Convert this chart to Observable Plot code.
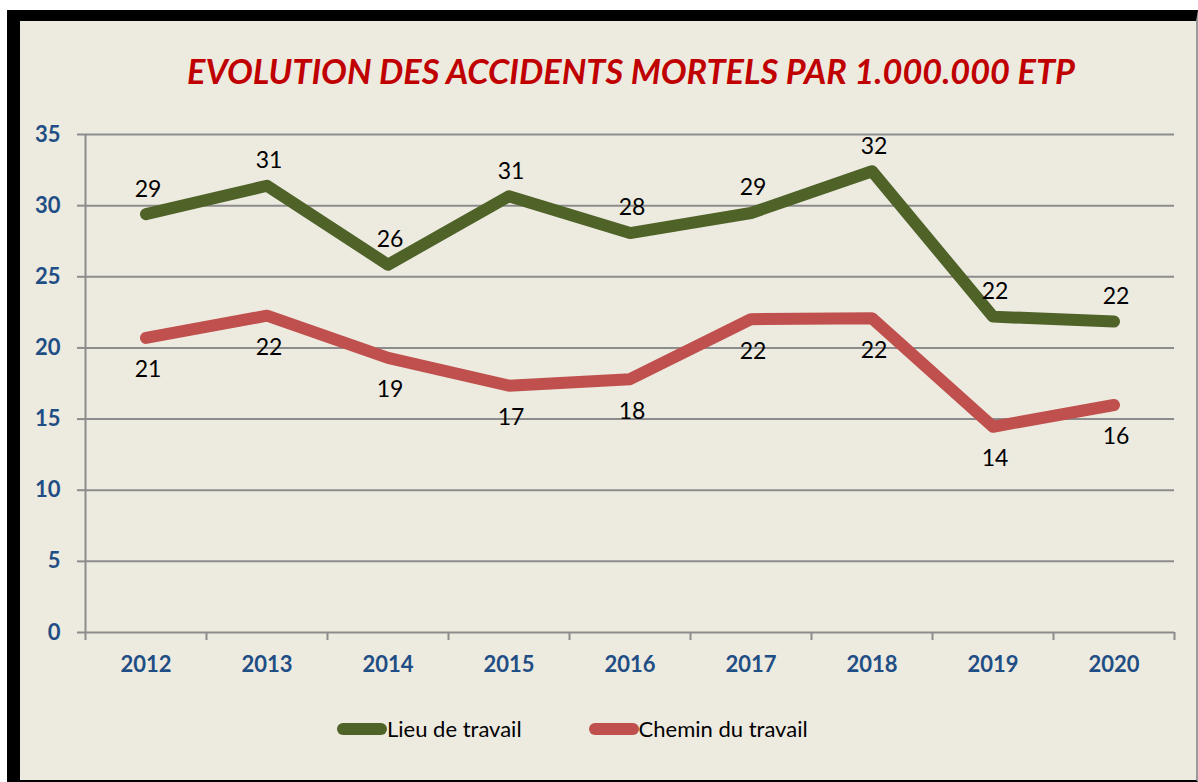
<!DOCTYPE html>
<html>
<head>
<meta charset="utf-8">
<script src="https://cdn.jsdelivr.net/npm/d3@7"></script>
<script src="https://cdn.jsdelivr.net/npm/@observablehq/plot@0.6"></script>
<style>
  html, body { margin: 0; padding: 0; background: #ffffff; width: 1198px; height: 782px; overflow: hidden; }
  #frame {
    position: absolute; left: 7px; top: 10px; width: 1191px; height: 772px;
    box-sizing: border-box; background: #EDEAE0;
    border-top: 11px solid #000; border-left: 13px solid #000;
    border-bottom: 2px solid #000; border-right: 2px solid #9a9a9a;
  }
  #title {
    position: absolute; left: 0; width: 1262px; top: 50px; text-align: center;
    font-family: Lato, sans-serif; font-weight: bold; font-style: italic;
    font-size: 34.3px; color: #C00000; white-space: nowrap;
  }
  #chart { position: absolute; left: 0; top: 110px; }
  #legend {
    position: absolute; left: 337px; top: 715px; display: flex; align-items: center;
    font-family: Lato, sans-serif; font-size: 22px; color: #000;
  }
  .item { display: flex; align-items: center; }
  .sw { width: 50px; height: 12px; border-radius: 6px; }
</style>
</head>
<body>
<div id="frame"></div>
<div id="title">EVOLUTION DES ACCIDENTS MORTELS PAR 1.000.000 ETP</div>
<div id="chart"></div>
<div id="legend"></div>
<script>
const years = [2012, 2013, 2014, 2015, 2016, 2017, 2018, 2019, 2020];
const lieuDeTravail = [29.4, 31.4, 25.85, 30.66, 28.07, 29.48, 32.42, 22.2, 21.85];
const cheminDuTravail = [20.7, 22.27, 19.3, 17.35, 17.8, 22.02, 22.09, 14.46, 15.99];
const seriesNames = ["Lieu de travail", "Chemin du travail"];
const seriesColors = ["#4F6228", "#C0504D"];
const yTicks = [0, 5, 10, 15, 20, 25, 30, 35];

const rows = [];
years.forEach((y, i) => {
  rows.push({year: y, value: lieuDeTravail[i], series: seriesNames[0]});
  rows.push({year: y, value: cheminDuTravail[i], series: seriesNames[1]});
});
const boundaries = [years[0] - 0.5, ...years.map(y => y + 0.5)];

const axisBlue = "#1F4E85";
const gridGray = "#8C8C8C";

const chart = Plot.plot({
  width: 1198,
  height: 590,
  marginTop: 24,
  marginBottom: 68,
  marginLeft: 85,
  marginRight: 24,
  style: {background: "transparent", fontFamily: "Lato, sans-serif", overflow: "visible"},
  x: {domain: [boundaries[0], boundaries[boundaries.length - 1]], label: null},
  y: {domain: [0, 35], label: null},
  color: {domain: seriesNames, range: seriesColors},
  marks: [
    Plot.ruleY(yTicks, {stroke: gridGray, strokeWidth: 2}),
    Plot.ruleX([boundaries[0]], {stroke: gridGray, strokeWidth: 2}),
    Plot.axisY({ticks: yTicks, tickSize: 8, tickPadding: 17, stroke: gridGray, strokeWidth: 2,
      fill: axisBlue, fontSize: 22, fontWeight: "bold", label: null, tickFormat: d => String(d)}),
    Plot.axisX({ticks: boundaries, tickSize: 8, stroke: gridGray, strokeWidth: 2,
      tickFormat: () => "", label: null}),
    Plot.axisX({ticks: years, tickSize: 0, tickPadding: 24, fill: axisBlue, fontSize: 22,
      fontWeight: "bold", label: null, tickFormat: d => String(d)}),
    Plot.line(rows, {x: "year", y: "value", z: "series", stroke: "series",
      strokeWidth: 12, strokeLinecap: "round", strokeLinejoin: "round"}),
    Plot.text(rows.filter(d => d.series === seriesNames[0]), {x: "year", y: "value",
      text: d => String(Math.round(d.value)), dy: -25, dx: 2, fontSize: 23, fill: "#000"}),
    Plot.text(rows.filter(d => d.series === seriesNames[1]), {x: "year", y: "value",
      text: d => String(Math.round(d.value)), dy: 32, dx: 2, fontSize: 23, fill: "#000"})
  ]
});
document.getElementById("chart").appendChild(chart);

const legend = document.getElementById("legend");
seriesNames.forEach((name, i) => {
  const item = document.createElement("div");
  item.className = "item";
  if (i > 0) item.style.marginLeft = "67px";
  const sw = document.createElement("div");
  sw.className = "sw";
  sw.style.background = seriesColors[i];
  const t = document.createElement("span");
  t.textContent = name;
  item.appendChild(sw);
  item.appendChild(t);
  legend.appendChild(item);
});
</script>
</body>
</html>
